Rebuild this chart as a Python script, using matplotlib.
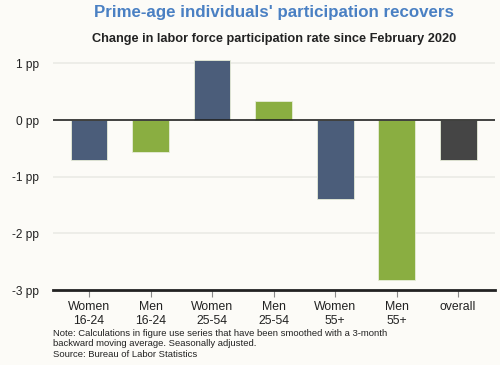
#!/usr/bin/env python3

# import modules
from matplotlib import pyplot as plt
import numpy as np

plt.rcParams['font.family'] = ['Liberation Sans', 'DejaVu Sans']

# data
categories = ['Women\n16-24', 'Men\n16-24', 'Women\n25-54', 'Men\n25-54',
              'Women\n55+', 'Men\n55+', 'overall']
changes = [-0.70, -0.57, 1.06, 0.33, -1.40, -2.83, -0.70]
bar_colors = ['#4b5d7a', '#8aae41', '#4b5d7a', '#8aae41', '#4b5d7a', '#8aae41', '#454545']
yticks = [1, 0, -1, -2, -3]
ytick_labels = ['%d pp' % v for v in yticks]

bg = '#fcfbf7'

fig = plt.figure(figsize=(5, 3.65), dpi=100, facecolor=bg)
ax = fig.add_axes([53 / 500, 1 - 290 / 365, 442 / 500, 235 / 365], facecolor=bg)

x = np.arange(len(categories))
ax.bar(x, changes, width=0.6, color=bar_colors, edgecolor='#e6ecd8', linewidth=0.6, zorder=3)

# axes styling
ax.set_xlim(-0.585, 6.6)
ax.set_ylim(-3, 1.15)
ax.set_yticks(yticks)
ax.set_yticklabels(ytick_labels, fontsize=8.6, color='#222222')
ax.set_xticks(x)
ax.set_xticklabels(categories, fontsize=8.8, color='#222222', linespacing=1.2)
ax.tick_params(axis='y', length=0, pad=10)
ax.tick_params(axis='x', length=5, color='#888888', width=0.8, pad=3)
for yv in [1, -1, -2]:
	ax.axhline(yv, color='#ebebe6', linewidth=1.2, zorder=1)
ax.axhline(0, color='#222222', linewidth=1.2, zorder=4)
for side in ['top', 'right', 'left']:
	ax.spines[side].set_visible(False)
ax.spines['bottom'].set_color('#222222')
ax.spines['bottom'].set_linewidth(2)

# titles and note
fig.text(274 / 500, 1 - 12 / 365, "Prime-age individuals' participation recovers",
	ha='center', va='center', fontsize=12.2, fontweight='bold', color='#4a80c3')
fig.text(274 / 500, 1 - 39 / 365, 'Change in labor force participation rate since February 2020',
	ha='center', va='center', fontsize=9.2, fontweight='bold', color='#222222')
fig.text(53 / 500, 1 - 329 / 365,
	'Note: Calculations in figure use series that have been smoothed with a 3-month\n'
	'backward moving average. Seasonally adjusted.\n'
	'Source: Bureau of Labor Statistics',
	ha='left', va='top', fontsize=6.8, color='#222222', linespacing=1.2)

plt.savefig('out.png', dpi=100, facecolor=bg)
